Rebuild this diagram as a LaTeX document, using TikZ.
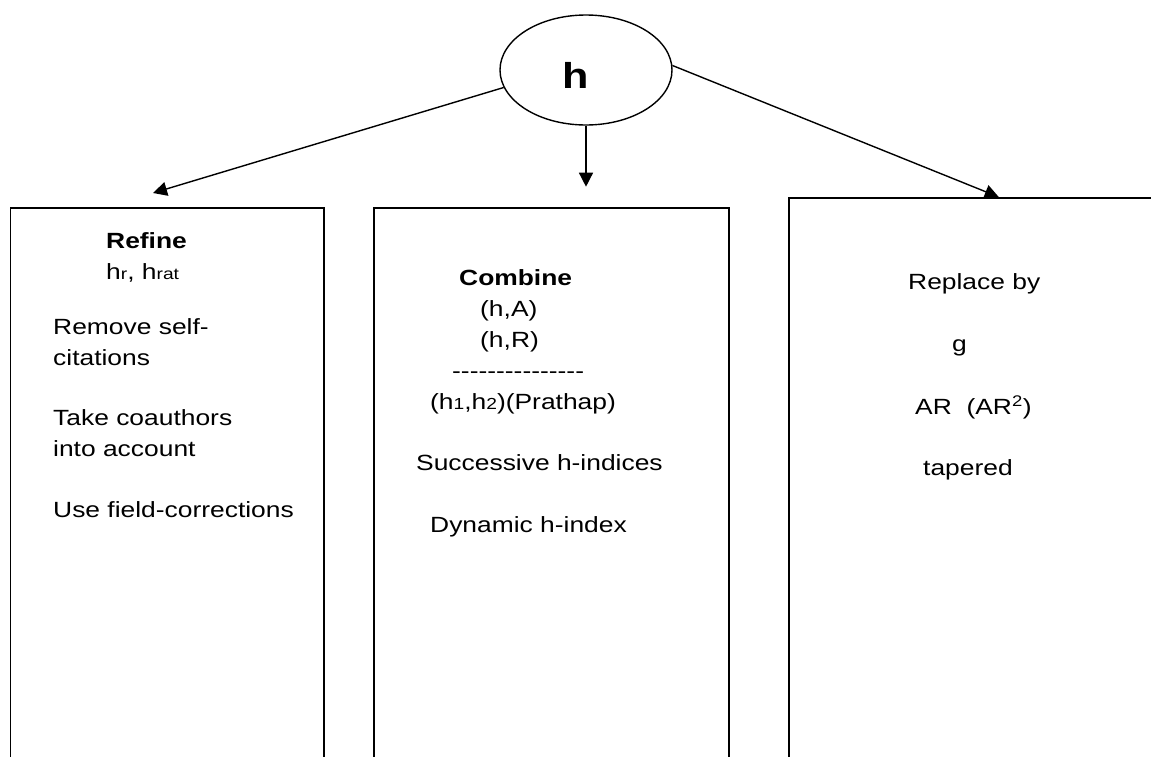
\documentclass[tikz,border=0pt]{standalone}
\usepackage{fontspec}
\setmainfont{Liberation Sans}[FakeStretch=1.2]
\usetikzlibrary{shapes.geometric,arrows.meta}

\tikzset{
  box/.style={draw, rectangle, line width=1.5pt, anchor=north west, minimum height=700pt},
  txt/.style={anchor=base west, inner sep=0pt, font=\fontsize{22}{31}\selectfont},
  arr/.style={line width=1.4pt, -{Triangle[length=14pt,width=14pt]}},
}
\newcommand{\sml}[1]{{\fontsize{16}{16}\selectfont #1}}

\begin{document}
\begin{tikzpicture}[x=1pt,y=-1pt]
    \useasboundingbox (0,0) rectangle (1151,756);
    \clip (0,0) rectangle (1151,756);

    % Top ellipse
    \node[draw, ellipse, line width=1.4pt, minimum width=172pt, minimum height=110pt, inner sep=0pt] (h) at (586,70) {};
    \node[anchor=base west, inner sep=0pt, font=\fontsize{36}{36}\selectfont\bfseries] (hlabel) at (562,88) {h};

    % Boxes (open at the bottom / right edge of the page)
    \node[box, minimum width=313.5pt] (refine) at (9.5,207) {};
    \node[box, minimum width=355pt] (combine) at (373,207) {};
    \node[box, minimum width=420pt] (replace) at (788,197) {};

    % Arrows
    \draw[arr] (h.192) -- ([shift={(-14,-14)}]refine.north);
    \draw[arr] (h.south) -- ++(0,61);
    \draw[arr] (h.3) -- (replace.north);

    % Refine
    \node[txt, font=\fontsize{22}{31}\selectfont\bfseries] (ref-title) at (106,248) {Refine};
    \node[txt] (ref-sym) at (106,279) {h\sml{r}, h\sml{rat}};
    \node[txt] (ref-self) at (53,334) {Remove self-};
    \node[txt] (ref-self2) at (53,365) {citations};
    \node[txt] (ref-coau) at (53,425) {Take coauthors};
    \node[txt] (ref-coau2) at (53,456) {into account};
    \node[txt] (ref-field) at (53,517) {Use field-corrections};

    % Combine
    \node[txt, font=\fontsize{22}{31}\selectfont\bfseries] (com-title) at (459,285) {Combine};
    \node[txt] (com-ha) at (480,316) {(h,A)};
    \node[txt] (com-hr) at (480,347) {(h,R)};
    \node[txt] (com-rule) at (452,378) {-{}-{}-{}-{}-{}-{}-{}-{}-{}-{}-{}-{}-{}-{}-};
    \node[txt] (com-prat) at (430,409) {(h\sml{1},h\sml{2})(Prathap)};
    \node[txt] (com-succ) at (416,470) {Successive h-indices};
    \node[txt] (com-dyn) at (430,532) {Dynamic h-index};

    % Replace
    \node[txt] (rep-title) at (908,289) {Replace by};
    \node[txt] (rep-g) at (952,351) {g};
    \node[txt] (rep-ar) at (915,414) {AR\ \ (AR\textsuperscript{2})};
    \node[txt] (rep-tap) at (923,475) {tapered};
\end{tikzpicture}
\end{document}
